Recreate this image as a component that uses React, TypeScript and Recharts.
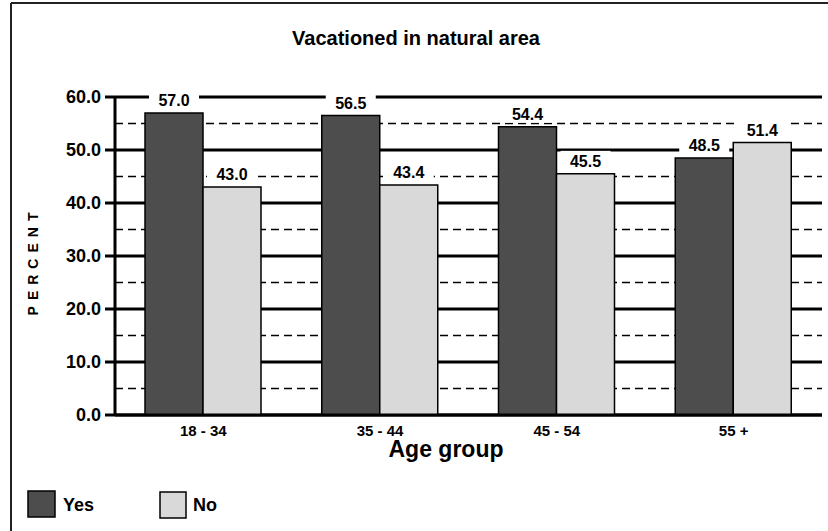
import React from "react";
import {
  BarChart,
  Bar,
  XAxis,
  YAxis,
  CartesianGrid,
  LabelList,
  ReferenceLine,
} from "recharts";

const categories = ["18 - 34", "35 - 44", "45 - 54", "55 +"];
const yesValues = [57.0, 56.5, 54.4, 48.5];
const noValues = [43.0, 43.4, 45.5, 51.4];
const majorTicks = [0, 10, 20, 30, 40, 50, 60];
const minorTicks = [5, 15, 25, 35, 45, 55];

const data = categories.map((group, i) => ({
  group,
  yes: yesValues[i],
  no: noValues[i],
}));

const FONT = '"Liberation Sans", Arial, Helvetica, sans-serif';
const DARK = "#4d4d4d";
const LIGHT = "#d9d9d9";

function ValueLabel(props: any) {
  const { x, y, width, value } = props;
  const cx = Number(x) + Number(width) / 2;
  const top = Number(y);
  return (
    <g>
      <rect x={cx - 25} y={top - 23} width={50} height={19} fill="#fff" />
      <text
        x={cx}
        y={top - 7}
        textAnchor="middle"
        fontFamily={FONT}
        fontSize={16}
        fontWeight="bold"
        fill="#000"
      >
        {Number(value).toFixed(1)}
      </text>
    </g>
  );
}

export default function App() {
  return (
    <div style={{ position: "absolute", left: 0, top: 0, background: "#fff" }}>
      <BarChart
        width={828}
        height={531}
        data={data}
        margin={{ top: 97, right: 6, bottom: 86, left: 10 }}
        barGap={0}
        style={{ fontFamily: FONT }}
      >
        <CartesianGrid vertical={false} stroke="#000" strokeWidth={3} />
        {minorTicks.map((v) => (
          <ReferenceLine
            key={v}
            y={v}
            stroke="#000"
            strokeWidth={1.5}
            strokeDasharray="8 5"
            zIndex={-50}
          />
        ))}
        <XAxis
          dataKey="group"
          height={30}
          tickSize={0}
          tickMargin={10}
          tickLine={false}
          axisLine={{ stroke: "#000", strokeWidth: 3 }}
          tick={{ fontSize: 15, fontWeight: "bold", fill: "#000", fontFamily: FONT }}
        />
        <YAxis
          domain={[0, 60]}
          ticks={majorTicks}
          interval={0}
          width={105}
          tickSize={10}
          tickMargin={4}
          tickFormatter={(v: number) => v.toFixed(1)}
          axisLine={{ stroke: "#000", strokeWidth: 3 }}
          tickLine={{ stroke: "#000", strokeWidth: 3 }}
          tick={{ fontSize: 18, fontWeight: "bold", fill: "#000", fontFamily: FONT }}
        />
        <Bar
          dataKey="yes"
          fill={DARK}
          stroke="#000"
          strokeWidth={1.5}
          barSize={58}
          isAnimationActive={false}
        >
          <LabelList dataKey="yes" content={ValueLabel} />
        </Bar>
        <Bar
          dataKey="no"
          fill={LIGHT}
          stroke="#000"
          strokeWidth={1.5}
          barSize={58}
          isAnimationActive={false}
        >
          <LabelList dataKey="no" content={ValueLabel} />
        </Bar>

        {/* frame, title, axis titles, legend */}
        <line x1={11} y1={3} x2={828} y2={3} stroke="#222" strokeWidth={2} />
        <line x1={11} y1={3} x2={11} y2={531} stroke="#222" strokeWidth={2} />
        <text
          x={416}
          y={45}
          textAnchor="middle"
          fontFamily={FONT}
          fontSize={20}
          fontWeight="bold"
          fill="#000"
        >
          Vacationed in natural area
        </text>
        <text
          x={446}
          y={457}
          textAnchor="middle"
          fontFamily={FONT}
          fontSize={23}
          fontWeight="bold"
          fill="#000"
        >
          Age group
        </text>
        <text
          transform="translate(38,261) rotate(-90)"
          textAnchor="middle"
          fontFamily={FONT}
          fontSize={14}
          fontWeight="bold"
          letterSpacing={6}
          fill="#000"
        >
          PERCENT
        </text>
        <rect x={28} y={491} width={27} height={26} fill={DARK} stroke="#000" strokeWidth={1.5} />
        <text x={63} y={511} fontFamily={FONT} fontSize={18} fontWeight="bold" fill="#000">
          Yes
        </text>
        <rect x={160} y={492} width={26} height={26} fill={LIGHT} stroke="#000" strokeWidth={1.5} />
        <text x={193} y={511} fontFamily={FONT} fontSize={18} fontWeight="bold" fill="#000">
          No
        </text>
      </BarChart>
    </div>
  );
}
